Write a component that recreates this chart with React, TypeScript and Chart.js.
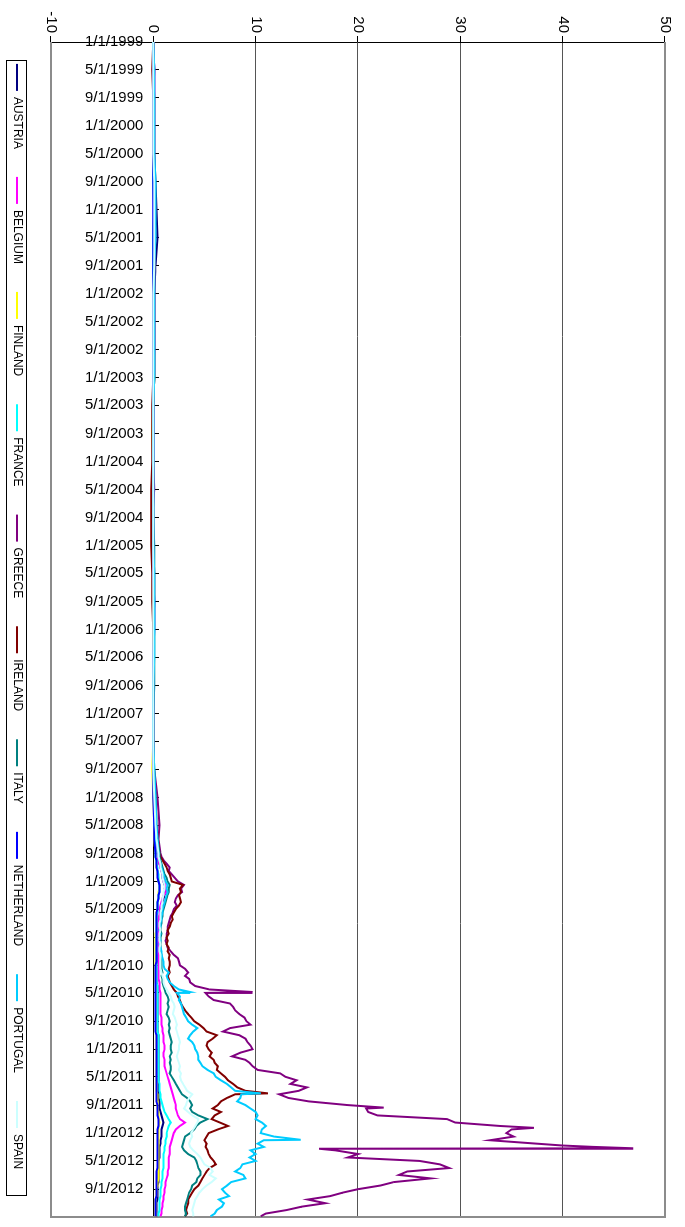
import React, { useEffect, useRef } from 'react';
import { Chart, registerables } from 'chart.js';

Chart.register(...registerables);

const FONT = "'Liberation Sans', Arial, Helvetica, sans-serif";

const countries = ['AUSTRIA', 'BELGIUM', 'FINLAND', 'FRANCE', 'GREECE', 'IRELAND', 'ITALY', 'NETHERLAND', 'PORTUGAL', 'SPAIN'];
const colors = ['#000080', '#FF00FF', '#FFFF00', '#00FFFF', '#800080', '#800000', '#008080', '#0000FF', '#00CCFF', '#CCFFFF'];

const valueTicks = [-10, 0, 10, 20, 30, 40, 50];

const dateTicks = [
  '1/1/1999', '5/1/1999', '9/1/1999', '1/1/2000', '5/1/2000', '9/1/2000',
  '1/1/2001', '5/1/2001', '9/1/2001', '1/1/2002', '5/1/2002', '9/1/2002',
  '1/1/2003', '5/1/2003', '9/1/2003', '1/1/2004', '5/1/2004', '9/1/2004',
  '1/1/2005', '5/1/2005', '9/1/2005', '1/1/2006', '5/1/2006', '9/1/2006',
  '1/1/2007', '5/1/2007', '9/1/2007', '1/1/2008', '5/1/2008', '9/1/2008',
  '1/1/2009', '5/1/2009', '9/1/2009', '1/1/2010', '5/1/2010', '9/1/2010',
  '1/1/2011', '5/1/2011', '9/1/2011', '1/1/2012', '5/1/2012', '9/1/2012',
];

const axisEndDate = '2012-12-31';

const dates = [
  '1999-01-01', '1999-05-01', '1999-09-01', '2000-01-01', '2000-05-01', '2000-09-01',
  '2001-01-01', '2001-05-01', '2001-09-01', '2002-01-01', '2002-05-01', '2002-09-01',
  '2003-01-01', '2003-05-01', '2003-09-01', '2004-01-01', '2004-05-01', '2004-09-01',
  '2005-01-01', '2005-05-01', '2005-09-01', '2006-01-01', '2006-05-01', '2006-09-01',
  '2007-01-01', '2007-05-01', '2007-09-01', '2008-01-01', '2008-05-01', '2008-07-01',
  '2008-09-01', '2008-09-16', '2008-10-01', '2008-10-16', '2008-11-01', '2008-11-16', '2008-12-01', '2008-12-16',
  '2009-01-01', '2009-01-16', '2009-02-01', '2009-02-16', '2009-03-01', '2009-03-16', '2009-04-01', '2009-04-16',
  '2009-05-01', '2009-05-16', '2009-06-01', '2009-06-16', '2009-07-01', '2009-07-16', '2009-08-01', '2009-08-16',
  '2009-09-01', '2009-09-16', '2009-10-01', '2009-10-16', '2009-11-01', '2009-11-16', '2009-12-01', '2009-12-16',
  '2010-01-01', '2010-01-16', '2010-02-01', '2010-02-16', '2010-03-01', '2010-03-16', '2010-04-01', '2010-04-16',
  '2010-05-01', '2010-05-16', '2010-06-01', '2010-06-16', '2010-07-01', '2010-07-16', '2010-08-01', '2010-08-16',
  '2010-09-01', '2010-09-16', '2010-10-01', '2010-10-16', '2010-11-01', '2010-11-16', '2010-12-01', '2010-12-16',
  '2011-01-01', '2011-01-16', '2011-02-01', '2011-02-16', '2011-03-01', '2011-03-16', '2011-04-01', '2011-04-16',
  '2011-05-01', '2011-05-16', '2011-06-01', '2011-06-16', '2011-07-01', '2011-07-16', '2011-08-01', '2011-08-16',
  '2011-09-01', '2011-09-16', '2011-10-01', '2011-10-16', '2011-11-01', '2011-11-16', '2011-12-01', '2011-12-16',
  '2012-01-01', '2012-01-16', '2012-02-01', '2012-02-16', '2012-03-01', '2012-03-16', '2012-04-01', '2012-04-16',
  '2012-05-01', '2012-05-16', '2012-06-01', '2012-06-16', '2012-07-01', '2012-07-16', '2012-08-01', '2012-08-16',
  '2012-09-01', '2012-09-16', '2012-10-01', '2012-10-16', '2012-11-01', '2012-11-16', '2012-12-01', '2012-12-16',
  '2012-12-28',
];

const austria = [
  0.0, 0.1, 0.1, 0.1, 0.1, 0.2, 0.3, 0.4, 0.2, 0.1,
  0.1, 0.1, 0.1, 0.0, 0.0, 0.0, 0.0, 0.0, 0.0, 0.0,
  0.0, 0.0, 0.0, 0.0, 0.0, 0.0, 0.0, 0.1, 0.2, 0.3,
  0.4, 0.4, 0.5, 0.6, 0.7, 0.8, 0.9, 0.9, 1.0, 1.1,
  1.2, 1.2, 1.1, 1.0, 0.9, 0.8, 0.7, 0.7, 0.6, 0.6,
  0.5, 0.5, 0.4, 0.4, 0.4, 0.4, 0.4, 0.4, 0.4, 0.4,
  0.4, 0.4, 0.3, 0.3, 0.3, 0.3, 0.3, 0.3, 0.4, 0.4,
  0.4, 0.4, 0.4, 0.4, 0.4, 0.4, 0.4, 0.4, 0.4, 0.4,
  0.4, 0.4, 0.5, 0.5, 0.5, 0.5, 0.5, 0.5, 0.5, 0.5,
  0.5, 0.5, 0.5, 0.5, 0.5, 0.5, 0.5, 0.5, 0.5, 0.5,
  0.5, 0.6, 0.6, 0.6, 0.7, 0.8, 0.9, 1.0, 0.9, 0.8,
  0.8, 0.8, 0.7, 0.7, 0.6, 0.6, 0.6, 0.6, 0.5, 0.5,
  0.5, 0.5, 0.5, 0.5, 0.5, 0.4, 0.4, 0.4, 0.4, 0.4,
  0.3, 0.3, 0.3, 0.3, 0.3,
];

const belgium = [
  0.0, 0.1, 0.1, 0.1, 0.1, 0.1, 0.1, 0.1, 0.1, 0.1,
  0.1, 0.1, 0.0, 0.0, 0.0, 0.0, 0.0, 0.0, 0.0, 0.0,
  0.0, 0.0, 0.0, 0.0, 0.0, 0.0, 0.0, 0.1, 0.2, 0.3,
  0.4, 0.4, 0.5, 0.6, 0.7, 0.8, 0.9, 1.0, 1.0, 1.2,
  1.1, 1.3, 1.0, 0.9, 0.8, 0.7, 0.6, 0.6, 0.6, 0.5,
  0.5, 0.5, 0.4, 0.5, 0.4, 0.4, 0.5, 0.4, 0.4, 0.5,
  0.5, 0.5, 0.5, 0.5, 0.5, 0.5, 0.5, 0.6, 0.6, 0.6,
  0.7, 0.7, 0.7, 0.7, 0.7, 0.7, 0.7, 0.8, 0.8, 0.8,
  0.9, 0.9, 1.0, 1.0, 1.0, 1.1, 1.1, 1.0, 1.0, 1.1,
  1.1, 1.1, 1.2, 1.3, 1.4, 1.5, 1.6, 1.7, 1.8, 1.9,
  2.0, 2.1, 2.2, 2.2, 2.3, 2.4, 2.6, 3.1, 2.6, 2.2,
  2.0, 1.9, 1.8, 1.7, 1.6, 1.6, 1.6, 1.5, 1.5, 1.5,
  1.5, 1.4, 1.4, 1.3, 1.2, 1.2, 1.1, 1.1, 1.0, 1.0,
  0.9, 0.9, 0.8, 0.8, 0.7,
];

const finland = [
  0.0, 0.0, 0.0, 0.0, 0.0, 0.0, 0.1, 0.0, 0.0, 0.0,
  0.0, 0.0, 0.1, 0.0, -0.1, 0.0, 0.0, 0.0, 0.0, 0.0,
  0.0, 0.0, 0.0, 0.0, 0.0, 0.0, -0.1, 0.0, 0.1, 0.1,
  0.2, 0.2, 0.3, 0.3, 0.3, 0.4, 0.4, 0.5, 0.5, 0.6,
  0.6, 0.5, 0.5, 0.5, 0.4, 0.4, 0.4, 0.3, 0.3, 0.3,
  0.3, 0.3, 0.3, 0.2, 0.2, 0.2, 0.2, 0.2, 0.2, 0.2,
  0.2, 0.2, 0.2, 0.2, 0.2, 0.2, 0.2, 0.2, 0.3, 0.3,
  0.3, 0.3, 0.3, 0.3, 0.3, 0.3, 0.3, 0.3, 0.3, 0.3,
  0.3, 0.3, 0.3, 0.3, 0.3, 0.3, 0.3, 0.3, 0.3, 0.3,
  0.3, 0.3, 0.3, 0.3, 0.3, 0.3, 0.3, 0.3, 0.3, 0.4,
  0.4, 0.4, 0.4, 0.4, 0.5, 0.5, 0.5, 0.6, 0.5, 0.5,
  0.5, 0.5, 0.5, 0.5, 0.5, 0.5, 0.5, 0.5, 0.5, 0.5,
  0.5, 0.5, 0.5, 0.5, 0.4, 0.4, 0.3, 0.3, 0.3, 0.2,
  0.2, 0.2, 0.2, 0.2, 0.2,
];

const france = [
  0.0, 0.0, 0.0, 0.0, 0.0, 0.0, 0.1, 0.0, 0.0, 0.0,
  0.0, 0.0, 0.0, 0.0, 0.0, 0.0, 0.0, 0.0, 0.0, 0.0,
  0.0, 0.0, 0.0, 0.0, 0.0, 0.0, 0.0, 0.1, 0.1, 0.2,
  0.2, 0.2, 0.3, 0.3, 0.4, 0.4, 0.5, 0.5, 0.5, 0.6,
  0.6, 0.6, 0.5, 0.5, 0.4, 0.4, 0.4, 0.4, 0.3, 0.3,
  0.3, 0.3, 0.3, 0.3, 0.3, 0.3, 0.3, 0.3, 0.3, 0.3,
  0.3, 0.3, 0.3, 0.3, 0.3, 0.3, 0.3, 0.3, 0.4, 0.4,
  0.4, 0.4, 0.4, 0.4, 0.4, 0.4, 0.4, 0.4, 0.4, 0.4,
  0.4, 0.4, 0.5, 0.5, 0.5, 0.5, 0.5, 0.5, 0.5, 0.5,
  0.5, 0.5, 0.5, 0.5, 0.5, 0.5, 0.6, 0.6, 0.6, 0.7,
  0.7, 0.8, 0.9, 1.0, 1.1, 1.3, 1.5, 1.7, 1.5, 1.4,
  1.3, 1.3, 1.2, 1.2, 1.1, 1.1, 1.0, 1.0, 1.0, 1.0,
  1.0, 0.9, 0.9, 0.9, 0.8, 0.8, 0.7, 0.7, 0.7, 0.6,
  0.6, 0.6, 0.6, 0.5, 0.5,
];

const greece = [
  0.0, 0.1, 0.0, 0.0, 0.0, 0.1, 0.2, 0.1, 0.1, 0.1,
  0.1, 0.1, 0.1, 0.0, 0.0, 0.0, 0.1, -0.1, 0.0, 0.1,
  0.1, 0.0, 0.0, 0.0, 0.0, 0.0, 0.1, 0.4, 0.6, 0.5,
  0.7, 0.8, 1.0, 1.3, 1.6, 1.5, 1.8, 2.1, 2.4, 3.0,
  2.7, 2.8, 2.4, 2.2, 2.1, 2.3, 2.0, 1.9, 1.7, 1.6,
  1.5, 1.4, 1.4, 1.3, 1.3, 1.2, 1.3, 1.4, 1.7, 2.0,
  2.4, 2.5, 2.6, 3.1, 3.4, 3.1, 3.5, 3.6, 4.1, 5.5,
  5.1, 5.4, 5.9, 7.5, 7.8, 8.0, 8.4, 8.9, 9.1, 9.5,
  7.5, 6.8, 8.4, 9.0, 9.2, 9.5, 9.7, 8.5, 7.7, 9.0,
  9.4, 9.7, 10.2, 12.4, 12.9, 14.0, 13.4, 15.0, 14.2, 12.3,
  13.2, 15.2, 19.0, 20.8, 21.0, 21.9, 28.7, 29.5, 33.9, 35.0,
  34.5, 35.2, 32.9, 37.5, 43.0, 17.8, 20.0, 19.0, 26.0, 28.0,
  28.9, 24.8, 24.0, 27.1, 23.5, 22.2, 20.0, 18.5, 17.3, 15.1,
  16.8, 14.5, 13.0, 11.0, 10.5,
];

const ireland = [
  0.0, -0.1, 0.0, 0.0, 0.0, 0.1, 0.1, 0.1, 0.1, 0.0,
  0.0, 0.0, 0.0, -0.1, -0.1, -0.1, -0.2, -0.2, -0.2, -0.1,
  -0.1, 0.0, 0.0, 0.0, 0.0, 0.0, 0.0, 0.2, 0.3, 0.4,
  0.6, 0.7, 0.9, 1.1, 1.3, 1.4, 1.6, 1.7, 1.8, 2.9,
  2.6, 2.7, 2.5, 2.6, 2.7, 2.5, 2.2, 2.0, 1.8, 1.9,
  1.7, 1.6, 1.4, 1.5, 1.3, 1.4, 1.3, 1.5, 1.4, 1.6,
  1.5, 1.6, 1.6, 1.5, 1.6, 1.4, 1.5, 1.6, 1.8, 2.0,
  2.3, 2.4, 2.6, 2.7, 2.9, 3.1, 3.4, 3.7, 4.0, 4.5,
  4.9, 5.2, 6.2, 5.8, 5.3, 5.2, 5.4, 5.7, 5.5, 5.9,
  6.0, 6.3, 6.2, 6.6, 7.0, 7.3, 7.8, 8.2, 9.0, 8.0,
  7.2, 6.6, 6.3, 5.8, 6.6, 6.0, 5.7, 6.5, 7.3, 6.3,
  5.4, 5.2, 5.0, 5.2, 5.1, 5.3, 5.4, 5.6, 5.9, 6.1,
  5.5, 5.2, 5.0, 4.8, 4.6, 4.4, 4.0, 3.8, 3.6, 3.4,
  3.4, 3.3, 3.2, 3.3, 3.1,
];

const italy = [
  0.0, 0.0, 0.1, 0.1, 0.1, 0.1, 0.1, 0.1, 0.1, 0.1,
  0.1, 0.1, 0.1, 0.0, 0.0, 0.0, 0.0, 0.0, 0.1, 0.1,
  0.1, 0.1, 0.1, 0.1, 0.0, 0.0, 0.1, 0.2, 0.3, 0.4,
  0.6, 0.6, 0.7, 0.8, 0.9, 1.0, 1.1, 1.3, 1.4, 1.6,
  1.5, 1.5, 1.4, 1.3, 1.2, 1.1, 1.0, 0.9, 0.9, 0.8,
  0.8, 0.7, 0.7, 0.8, 0.7, 0.7, 0.7, 0.7, 0.7, 0.8,
  0.8, 0.8, 0.8, 0.8, 0.9, 0.8, 0.9, 0.9, 1.0, 1.1,
  1.2, 1.4, 1.5, 1.4, 1.5, 1.4, 1.3, 1.5, 1.6, 1.5,
  1.6, 1.5, 1.6, 1.7, 1.8, 1.7, 1.7, 1.8, 1.6, 1.7,
  1.6, 1.7, 1.7, 1.6, 1.8, 2.0, 2.2, 2.4, 2.6, 2.8,
  3.3, 3.6, 3.8, 3.6, 3.8, 4.4, 5.3, 4.6, 4.2, 4.0,
  3.6, 3.1, 3.0, 2.9, 2.8, 3.0, 3.4, 4.0, 4.2, 4.3,
  4.4, 4.6, 4.6, 4.3, 4.2, 3.8, 3.7, 3.5, 3.4, 3.3,
  3.2, 3.1, 3.1, 3.2, 3.1,
];

const netherland = [
  0.0, 0.0, 0.0, 0.0, 0.0, 0.0, 0.0, 0.0, 0.0, 0.0,
  0.0, 0.0, 0.0, 0.0, 0.0, 0.0, 0.0, 0.0, 0.0, 0.0,
  0.1, 0.1, 0.0, 0.0, 0.0, 0.0, 0.0, 0.0, 0.1, 0.1,
  0.2, 0.2, 0.3, 0.3, 0.3, 0.4, 0.4, 0.4, 0.5, 0.6,
  0.6, 0.6, 0.5, 0.5, 0.4, 0.4, 0.4, 0.3, 0.3, 0.3,
  0.3, 0.3, 0.3, 0.3, 0.3, 0.3, 0.3, 0.3, 0.3, 0.3,
  0.3, 0.3, 0.2, 0.2, 0.2, 0.2, 0.2, 0.2, 0.2, 0.2,
  0.2, 0.2, 0.2, 0.2, 0.2, 0.2, 0.2, 0.2, 0.2, 0.2,
  0.2, 0.2, 0.3, 0.3, 0.3, 0.3, 0.3, 0.3, 0.3, 0.3,
  0.3, 0.3, 0.3, 0.3, 0.3, 0.3, 0.3, 0.3, 0.3, 0.3,
  0.3, 0.3, 0.4, 0.4, 0.4, 0.4, 0.5, 0.5, 0.5, 0.4,
  0.4, 0.4, 0.4, 0.4, 0.4, 0.4, 0.4, 0.4, 0.4, 0.4,
  0.4, 0.3, 0.3, 0.3, 0.3, 0.3, 0.3, 0.3, 0.3, 0.2,
  0.2, 0.2, 0.2, 0.2, 0.2,
];

const portugal = [
  0.0, 0.1, 0.1, 0.1, 0.1, 0.2, 0.2, 0.2, 0.1, 0.1,
  0.1, 0.1, 0.1, 0.0, 0.0, 0.0, 0.0, 0.0, 0.0, 0.1,
  0.1, 0.1, 0.1, 0.0, 0.0, 0.0, 0.1, 0.2, 0.3, 0.4,
  0.5, 0.5, 0.6, 0.7, 0.8, 0.9, 1.0, 1.1, 1.2, 1.4,
  1.3, 1.4, 1.3, 1.2, 1.1, 1.0, 0.9, 0.9, 0.8, 0.8,
  0.7, 0.7, 0.6, 0.7, 0.6, 0.7, 0.6, 0.7, 0.8, 0.8,
  0.9, 1.0, 1.0, 1.1, 1.5, 1.3, 1.4, 1.6, 2.0, 2.5,
  2.3, 2.6, 2.5, 2.7, 2.8, 2.9, 3.0, 3.2, 3.4, 3.8,
  4.3, 3.9, 3.6, 3.4, 3.8, 4.0, 4.1, 4.3, 4.4, 4.4,
  4.6, 4.8, 5.3, 5.9, 6.1, 6.6, 7.2, 7.6, 8.0, 8.6,
  8.5, 8.2, 9.0, 9.5, 10.0, 10.2, 10.0, 10.6, 11.0, 10.6,
  10.5, 11.8, 10.8, 10.2, 10.8, 9.5, 10.0, 9.4, 10.0, 8.7,
  8.5, 8.0, 8.8, 9.0, 7.6, 7.2, 6.7, 7.0, 7.4, 6.4,
  6.9, 6.7, 6.2, 6.0, 5.6,
];

const spain = [
  0.0, 0.0, 0.0, 0.0, 0.0, 0.1, 0.1, 0.1, 0.1, 0.0,
  0.0, 0.0, 0.0, 0.0, 0.0, 0.0, 0.0, 0.0, 0.0, 0.0,
  0.0, 0.0, 0.0, 0.0, 0.0, 0.0, 0.0, 0.1, 0.2, 0.3,
  0.5, 0.5, 0.6, 0.7, 0.7, 0.8, 0.9, 0.9, 1.0, 1.1,
  1.1, 1.0, 1.0, 0.9, 0.9, 0.8, 0.8, 0.7, 0.7, 0.7,
  0.6, 0.6, 0.7, 0.6, 0.6, 0.6, 0.7, 0.6, 0.6, 0.7,
  0.7, 0.7, 0.7, 0.7, 0.8, 0.9, 1.0, 1.0, 1.1, 1.3,
  1.5, 1.7, 1.8, 2.0, 2.1, 2.0, 1.9, 2.1, 2.2, 2.3,
  2.2, 2.3, 2.4, 2.5, 2.6, 2.5, 2.5, 2.4, 2.3, 2.4,
  2.5, 2.6, 2.5, 2.7, 2.6, 2.7, 2.9, 3.1, 3.3, 3.8,
  3.5, 3.3, 3.2, 3.0, 3.4, 3.8, 4.4, 4.3, 4.1, 3.9,
  3.7, 3.8, 3.6, 3.5, 3.6, 3.9, 4.3, 4.6, 4.8, 5.0,
  5.6, 5.8, 5.5, 6.1, 5.7, 5.2, 4.8, 4.5, 4.3, 4.1,
  4.0, 3.9, 3.8, 3.9, 3.9,
];

// single-day moves (date, value)
const greeceSpikes: [string, number][] = [
  ['2010-04-27', 9.7], ['2011-09-12', 22.5], ['2011-12-09', 37.2],
  ['2012-02-24', 40.0], ['2012-03-07', 46.9], ['2012-03-09', 16.2],
];
const irelandSpikes: [string, number][] = [['2011-07-12', 11.2]];
const portugalSpikes: [string, number][] = [['2010-04-27', 3.6], ['2011-07-12', 10.5], ['2012-01-30', 14.4]];

const seriesValues = [austria, belgium, finland, france, greece, ireland, italy, netherland, portugal, spain];
const seriesSpikes: [string, number][][] = [[], [], [], [], greeceSpikes, irelandSpikes, [], [], portugalSpikes, []];

const DAY = 86400000;
const BASE = Date.UTC(1999, 0, 1);
function isoToDay(s: string): number {
  const [y, m, d] = s.split('-').map(Number);
  return (Date.UTC(y, m - 1, d) - BASE) / DAY;
}
function usToDay(s: string): number {
  const [m, d, y] = s.split('/').map(Number);
  return (Date.UTC(y, m - 1, d) - BASE) / DAY;
}

const tickDays = dateTicks.map(usToDay);
const tickLabelByDay = new Map<number, string>(tickDays.map((d, i) => [d, dateTicks[i]]));

function buildPoints(vals: number[], spikes: [string, number][]) {
  const pts = dates.map((d, i) => ({ x: isoToDay(d), y: vals[i] }));
  spikes.forEach(([d, v]) => pts.push({ x: isoToDay(d), y: v }));
  pts.sort((a, b) => a.x - b.x);
  return pts;
}

const plotFrame = {
  id: 'plotFrame',
  beforeDatasetsDraw(chart: any) {
    const { ctx, chartArea: a } = chart;
    ctx.save();
    ctx.strokeStyle = '#8c8c8c';
    ctx.lineWidth = 2;
    ctx.beginPath();
    ctx.moveTo(a.left, a.top);
    ctx.lineTo(a.right, a.top);
    ctx.lineTo(a.right, a.bottom);
    ctx.lineTo(a.left, a.bottom);
    ctx.stroke();
    ctx.restore();
  },
};

// nudges the legend row a little to the right, as in the picture
const legendShift = {
  id: 'legendShift',
  afterLayout(chart: any) {
    const lg = chart.legend;
    if (!lg) return;
    const dx = 8;
    lg.left += dx;
    lg.right += dx;
    (lg.legendHitBoxes || []).forEach((h: any) => {
      h.left += dx;
    });
  },
};

const legendFrame = {
  id: 'legendFrame',
  afterDraw(chart: any) {
    const lg = chart.legend;
    if (!lg || !lg.legendHitBoxes || !lg.legendHitBoxes.length) return;
    const hb = lg.legendHitBoxes;
    const first = hb[0];
    const last = hb[hb.length - 1];
    const cy = first.top + first.height / 2;
    const ctx = chart.ctx;
    const x0 = Math.round(first.left - 4) + 0.5;
    const x1 = Math.round(last.left + last.width + 26) + 0.5;
    const y0 = Math.round(cy - 10) + 0.5;
    ctx.save();
    ctx.strokeStyle = '#000';
    ctx.lineWidth = 1;
    ctx.strokeRect(x0, y0, x1 - x0, 20);
    ctx.restore();
  },
};

export default function App() {
  const ref = useRef<HTMLCanvasElement>(null);

  useEffect(() => {
    document.body.style.margin = '0';
    const canvas = ref.current;
    if (!canvas) return;
    const datasets = countries.map((name, i) => ({
      label: name,
      data: buildPoints(seriesValues[i], seriesSpikes[i]),
      borderColor: colors[i],
      backgroundColor: colors[i],
      borderWidth: 2,
      pointRadius: 0,
      pointHoverRadius: 0,
      fill: false,
      tension: 0,
      spanGaps: true,
      order: 9 - i,
    }));

    const chart = new Chart(canvas, {
      type: 'line',
      data: { datasets },
      options: {
        animation: false,
        responsive: false,
        maintainAspectRatio: false,
        events: [],
        layout: { padding: { top: 20, right: 10, bottom: 1, left: 0 } },
        plugins: {
          legend: {
            position: 'bottom',
            labels: {
              boxWidth: 27,
              boxHeight: 2,
              padding: 28,
              color: '#000',
              font: { size: 12, family: FONT },
              generateLabels: (c: any) =>
                c.data.datasets.map((ds: any, i: number) => ({
                  text: ds.label,
                  fillStyle: ds.borderColor,
                  strokeStyle: ds.borderColor,
                  lineWidth: 0,
                  hidden: false,
                  datasetIndex: i,
                  fontColor: '#000',
                })),
            },
          },
          tooltip: { enabled: false },
        },
        scales: {
          x: {
            type: 'linear',
            position: { y: 0 } as any,
            min: 0,
            max: isoToDay(axisEndDate),
            afterBuildTicks: (scale: any) => {
              scale.ticks = tickDays.map((v) => ({ value: v }));
            },
            ticks: {
              autoSkip: false,
              minRotation: 90,
              maxRotation: 90,
              padding: 16,
              color: '#000',
              font: { size: 15, family: FONT },
              callback: (v: any) => tickLabelByDay.get(Number(v)) ?? '',
            },
            grid: { drawOnChartArea: false, drawTicks: true, tickLength: -6, tickColor: '#000', tickWidth: 1 },
            border: { display: true, color: '#000', width: 1 },
          },
          y: {
            type: 'linear',
            position: 'left',
            min: -10,
            max: 50,
            afterBuildTicks: (scale: any) => {
              scale.ticks = valueTicks.map((v) => ({ value: v }));
            },
            afterFit: (scale: any) => {
              scale.width = 42;
            },
            ticks: {
              padding: 3,
              color: '#000',
              font: { size: 15, family: FONT },
              callback: (v: any) => String(v),
            },
            grid: {
              color: (ctx: any) =>
                ctx.tick && [10, 20, 30, 40].includes(ctx.tick.value) ? '#555555' : 'rgba(0,0,0,0)',
              tickLength: 6,
              tickColor: '#000',
              lineWidth: 1,
            },
            border: { display: true, color: '#000', width: 1 },
          },
        },
      },
      plugins: [legendShift, plotFrame, legendFrame],
    } as any);

    return () => chart.destroy();
  }, []);

  return (
    <div
      style={{
        position: 'fixed',
        left: 0,
        top: 0,
        width: 1227,
        height: 685,
        transformOrigin: '0 0',
        transform: 'translate(685px, 0px) rotate(90deg)',
        background: '#fff',
      }}
    >
      <canvas ref={ref} width={1227} height={685} style={{ display: 'block', width: 1227, height: 685 }} />
    </div>
  );
}
